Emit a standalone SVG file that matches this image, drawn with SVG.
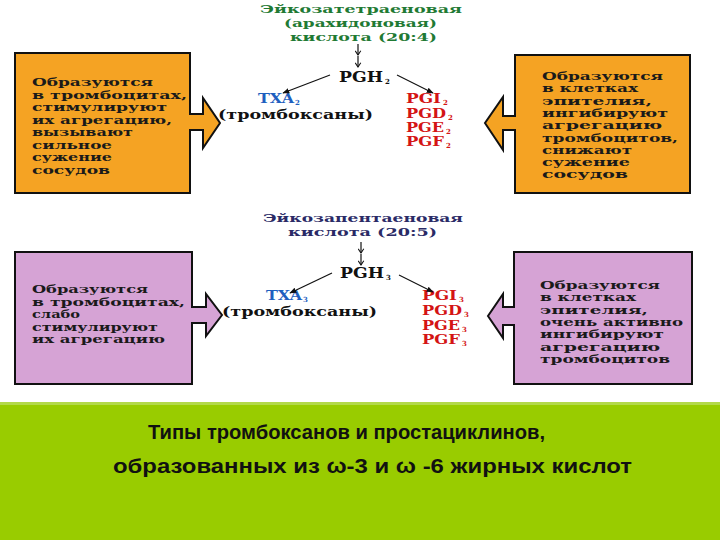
<svg xmlns="http://www.w3.org/2000/svg" width="720" height="540" viewBox="0 0 720 540">
<style>
  .t { font-family: "DejaVu Serif", "Liberation Serif", serif; font-weight: bold; }
  .title1 { fill: #1f7a34; font-size: 11.5px; }
  .title2 { fill: #2a2a66; font-size: 11.5px; }
  .pgh { fill: #111; font-size: 14px; }
  .txa { fill: #1f5fbf; font-size: 12.5px; }
  .pg { fill: #d41414; font-size: 12px; }
  .blk { fill: #111; font-size: 12px; }
  .sub { font-size: 7px; }
  .box { font-size: 10.5px; fill: #1a1a1a; }
  .orange { fill: #f5a323; stroke: #111; stroke-width: 2; }
  .pink { fill: #d6a3d5; stroke: #111; stroke-width: 2; }
  .conn { stroke: #111; stroke-width: 1.2; fill: none; }
  .cap { font-family: "Liberation Sans", Arial, sans-serif; font-size: 21px; font-weight: bold; fill: #111; }
</style>
<defs>
  <marker id="ah" viewBox="0 0 10 10" refX="9" refY="5" markerWidth="7" markerHeight="7" orient="auto-start-reverse" markerUnits="userSpaceOnUse">
    <path d="M0,1 L10,5 L0,9 Z" fill="#111"/>
  </marker>
  <marker id="dn" viewBox="0 0 10 10" refX="5" refY="9" markerWidth="7" markerHeight="7" orient="0" markerUnits="userSpaceOnUse">
    <path d="M1,3 L5,9 L9,3" fill="none" stroke="#111" stroke-width="1.5"/>
  </marker>
</defs>
<rect x="0" y="0" width="720" height="540" fill="#ffffff"/>

<!-- Top section -->
<g id="acid-20-4">
  <text class="t title1" x="260" y="13" textLength="202" lengthAdjust="spacingAndGlyphs">Эйкозатетраеновая</text>
  <text class="t title1" x="284" y="27" textLength="153" lengthAdjust="spacingAndGlyphs">(арахидоновая)</text>
  <text class="t title1" x="290" y="40.5" textLength="147" lengthAdjust="spacingAndGlyphs">кислота (20:4)</text>
</g>
<g id="pgh2">
  <text class="t pgh" x="339" y="82" textLength="44" lengthAdjust="spacingAndGlyphs">PGH</text>
  <text class="t pgh sub" x="385" y="84">2</text>
</g>
<g id="txa2">
  <text class="t txa" x="258" y="103" textLength="36" lengthAdjust="spacingAndGlyphs">TXA</text>
  <text class="t txa sub" x="295" y="104.5">2</text>
  <text class="t blk" x="218" y="118.5" textLength="155" lengthAdjust="spacingAndGlyphs">(тромбоксаны)</text>
</g>
<g id="pg2">
  <text class="t pg" x="406" y="103" textLength="35" lengthAdjust="spacingAndGlyphs">PGI</text>
  <text class="t pg sub" x="443" y="105">2</text>
  <text class="t pg" x="406" y="118" textLength="40" lengthAdjust="spacingAndGlyphs">PGD</text>
  <text class="t pg sub" x="448" y="120">2</text>
  <text class="t pg" x="406" y="132" textLength="38" lengthAdjust="spacingAndGlyphs">PGE</text>
  <text class="t pg sub" x="446" y="134">2</text>
  <text class="t pg" x="406" y="146" textLength="38" lengthAdjust="spacingAndGlyphs">PGF</text>
  <text class="t pg sub" x="446" y="148">2</text>
</g>
<g id="box-platelet-1">
  <path class="orange" d="M15,53 H190 V114 H203 V98 L220,123 L203,148 V130 H190 V193 H15 Z"/>
  <text class="t box" x="32" y="86" textLength="121" lengthAdjust="spacingAndGlyphs">Образуются</text>
  <text class="t box" x="32" y="98.5" textLength="155" lengthAdjust="spacingAndGlyphs">в тромбоцитах,</text>
  <text class="t box" x="32" y="111" textLength="135" lengthAdjust="spacingAndGlyphs">стимулируют</text>
  <text class="t box" x="32" y="123.5" textLength="140" lengthAdjust="spacingAndGlyphs">их агрегацию,</text>
  <text class="t box" x="32" y="136" textLength="101" lengthAdjust="spacingAndGlyphs">вызывают</text>
  <text class="t box" x="32" y="148.5" textLength="80" lengthAdjust="spacingAndGlyphs">сильное</text>
  <text class="t box" x="32" y="161" textLength="80" lengthAdjust="spacingAndGlyphs">сужение</text>
  <text class="t box" x="32" y="173.5" textLength="78" lengthAdjust="spacingAndGlyphs">сосудов</text>
</g>
<g id="box-epithelium-1">
  <path class="orange" d="M515,55 H690 V193 H515 V130 H503 V150 L485,123 L503,97 V116 H515 Z"/>
  <text class="t box" x="542" y="80" textLength="121" lengthAdjust="spacingAndGlyphs">Образуются</text>
  <text class="t box" x="542" y="92.3" textLength="96" lengthAdjust="spacingAndGlyphs">в клетках</text>
  <text class="t box" x="542" y="104.6" textLength="110" lengthAdjust="spacingAndGlyphs">эпителия,</text>
  <text class="t box" x="542" y="116.9" textLength="126" lengthAdjust="spacingAndGlyphs">ингибируют</text>
  <text class="t box" x="542" y="129.2" textLength="120" lengthAdjust="spacingAndGlyphs">агрегацию</text>
  <text class="t box" x="542" y="141.5" textLength="136" lengthAdjust="spacingAndGlyphs">тромбоцитов,</text>
  <text class="t box" x="542" y="153.8" textLength="90" lengthAdjust="spacingAndGlyphs">снижают</text>
  <text class="t box" x="542" y="166.1" textLength="88" lengthAdjust="spacingAndGlyphs">сужение</text>
  <text class="t box" x="542" y="178.4" textLength="86" lengthAdjust="spacingAndGlyphs">сосудов</text>
</g>

<!-- Bottom section -->
<g id="acid-20-5">
  <text class="t title2" x="263" y="222" textLength="200" lengthAdjust="spacingAndGlyphs">Эйкозапентаеновая</text>
  <text class="t title2" x="288" y="236" textLength="149" lengthAdjust="spacingAndGlyphs">кислота (20:5)</text>
</g>
<g id="pgh3">
  <text class="t pgh" x="340" y="278" textLength="44" lengthAdjust="spacingAndGlyphs">PGH</text>
  <text class="t pgh sub" x="386" y="280">3</text>
</g>
<g id="txa3">
  <text class="t txa" x="266" y="300" textLength="36" lengthAdjust="spacingAndGlyphs">TXA</text>
  <text class="t txa sub" x="303" y="301.5">3</text>
  <text class="t blk" x="222" y="316" textLength="155" lengthAdjust="spacingAndGlyphs">(тромбоксаны)</text>
</g>
<g id="pg3">
  <text class="t pg" x="422" y="300" textLength="35" lengthAdjust="spacingAndGlyphs">PGI</text>
  <text class="t pg sub" x="459" y="302">3</text>
  <text class="t pg" x="422" y="315" textLength="40" lengthAdjust="spacingAndGlyphs">PGD</text>
  <text class="t pg sub" x="464" y="317">3</text>
  <text class="t pg" x="422" y="330" textLength="38" lengthAdjust="spacingAndGlyphs">PGE</text>
  <text class="t pg sub" x="462" y="332">3</text>
  <text class="t pg" x="422" y="344" textLength="38" lengthAdjust="spacingAndGlyphs">PGF</text>
  <text class="t pg sub" x="462" y="346">3</text>
</g>
<g id="box-platelet-2">
  <path class="pink" d="M15,252 H192 V307 H206 V294 L222,315 L206,336 V323 H192 V384 H15 Z"/>
  <text class="t box" x="32" y="293" textLength="116" lengthAdjust="spacingAndGlyphs">Образуются</text>
  <text class="t box" x="32" y="305.5" textLength="153" lengthAdjust="spacingAndGlyphs">в тромбоцитах,</text>
  <text class="t box" x="32" y="318" textLength="48" lengthAdjust="spacingAndGlyphs">слабо</text>
  <text class="t box" x="32" y="330.5" textLength="126" lengthAdjust="spacingAndGlyphs">стимулируют</text>
  <text class="t box" x="32" y="343" textLength="133" lengthAdjust="spacingAndGlyphs">их агрегацию</text>
</g>
<g id="box-epithelium-2">
  <path class="pink" d="M514,252 H692 V384 H514 V325 H503 V338 L488,316 L503,294 V307 H514 Z"/>
  <text class="t box" x="540" y="289" textLength="120" lengthAdjust="spacingAndGlyphs">Образуются</text>
  <text class="t box" x="540" y="301.3" textLength="96" lengthAdjust="spacingAndGlyphs">в клетках</text>
  <text class="t box" x="540" y="313.6" textLength="108" lengthAdjust="spacingAndGlyphs">эпителия,</text>
  <text class="t box" x="540" y="325.9" textLength="143" lengthAdjust="spacingAndGlyphs">очень активно</text>
  <text class="t box" x="540" y="338.2" textLength="124" lengthAdjust="spacingAndGlyphs">ингибируют</text>
  <text class="t box" x="540" y="350.5" textLength="120" lengthAdjust="spacingAndGlyphs">агрегацию</text>
  <text class="t box" x="540" y="362.8" textLength="130" lengthAdjust="spacingAndGlyphs">тромбоцитов</text>
</g>

<!-- Connectors -->
<g id="connectors">
  <line class="conn" x1="358" y1="44" x2="358" y2="55" marker-end="url(#dn)"/>
  <line class="conn" x1="358" y1="56" x2="358" y2="67" marker-end="url(#dn)"/>
  <line class="conn" x1="330" y1="75" x2="283" y2="93" marker-end="url(#ah)"/>
  <line class="conn" x1="397" y1="75" x2="433" y2="93" marker-end="url(#ah)"/>
  <line class="conn" x1="361" y1="242" x2="361" y2="253" marker-end="url(#dn)"/>
  <line class="conn" x1="361" y1="254" x2="361" y2="265" marker-end="url(#dn)"/>
  <line class="conn" x1="332" y1="273" x2="290" y2="293" marker-end="url(#ah)"/>
  <line class="conn" x1="399" y1="275" x2="433" y2="292" marker-end="url(#ah)"/>
</g>

<!-- Caption band -->
<g id="caption">
  <rect x="0" y="402" width="720" height="138" fill="#99cc00"/>
  <rect x="0" y="402" width="720" height="3" fill="#b3d94a"/>
  <text class="cap" x="148" y="439" textLength="397" lengthAdjust="spacingAndGlyphs">Типы тромбоксанов и простациклинов,</text>
  <text class="cap" x="113" y="473" textLength="519" lengthAdjust="spacingAndGlyphs">образованных из ω-3 и ω -6 жирных кислот</text>
</g>
</svg>
